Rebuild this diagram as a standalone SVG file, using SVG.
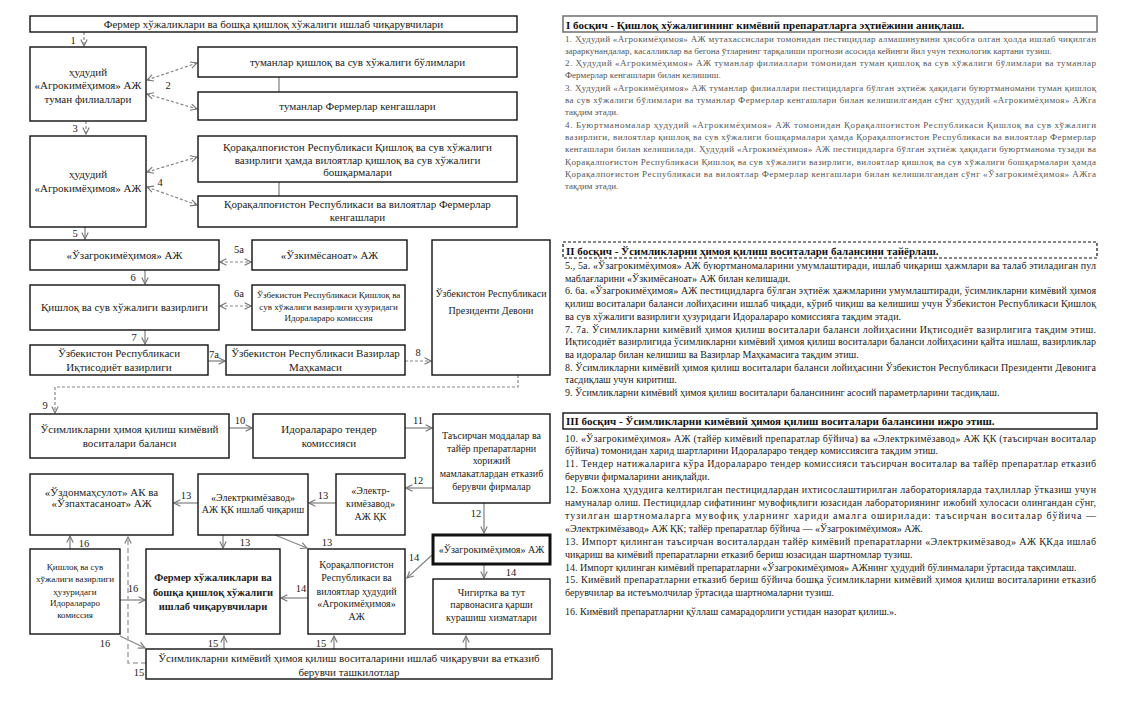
<svg xmlns="http://www.w3.org/2000/svg" width="1132" height="701" viewBox="0 0 1132 701">
<style>
text{font-family:"Liberation Serif","Times New Roman",serif;fill:#222;}
.b{fill:#fff;stroke:#111;stroke-width:1.4;}
.bt{fill:#fff;stroke:#111;stroke-width:3;}
.t{font-size:11px;text-anchor:middle;}
.t10{font-size:10px;text-anchor:middle;}
.t9{font-size:9px;text-anchor:middle;}
.tb{font-size:10.5px;font-weight:bold;text-anchor:middle;}
.n{font-size:10.5px;text-anchor:middle;}
.c{fill:none;stroke:#888;stroke-width:1.3;}
.d{fill:none;stroke:#888;stroke-width:1.2;stroke-dasharray:3 2;}
.dl{fill:none;stroke:#aaa;stroke-width:1.6;stroke-dasharray:5 3;}
.h{font-size:11px;font-weight:bold;fill:#111;}
.p1{font-size:9px;fill:#555;}
.p2{font-size:10px;fill:#222;}
</style>
<defs>
<marker id="a" viewBox="0 0 10 10" refX="9" refY="5" markerWidth="8" markerHeight="8" markerUnits="userSpaceOnUse" orient="auto-start-reverse">
<path d="M1,1 L9,5 L1,9" fill="none" stroke="#777" stroke-width="1.4"/>
</marker>
</defs>
<rect width="1132" height="701" fill="#fff"/>

<g id="connectors">
<path class="d" d="M84,32 V46" marker-end="url(#a)"/>
<path class="d" d="M147,80 L197,63" marker-start="url(#a)" marker-end="url(#a)"/>
<path class="d" d="M147,94 L197,109" marker-start="url(#a)" marker-end="url(#a)"/>
<path class="c" d="M279,77 V92"/>
<path class="d" d="M86,121 V134" marker-end="url(#a)"/>
<path class="d" d="M147,172 L197,157" marker-start="url(#a)" marker-end="url(#a)"/>
<path class="d" d="M147,187 L197,205" marker-start="url(#a)" marker-end="url(#a)"/>
<path class="c" d="M279,182 V196"/>
<path class="c" d="M85,227 V239" marker-end="url(#a)"/>
<path class="d" d="M220,262 H251" marker-start="url(#a)" marker-end="url(#a)"/>
<path class="c" d="M145,270 V284" marker-end="url(#a)"/>
<path class="d" d="M220,306 H251" marker-start="url(#a)" marker-end="url(#a)"/>
<path class="c" d="M145,330 V344" marker-end="url(#a)"/>
<path class="c" d="M208,361 H225" marker-end="url(#a)"/>
<path class="d" d="M405,361 H431" marker-end="url(#a)"/>
<path class="d" d="M518,375 V387 H55 V413" marker-end="url(#a)"/>
<path class="c" d="M229,428 H252" marker-end="url(#a)"/>
<path class="c" d="M405,428 H432" marker-end="url(#a)"/>
<path class="c" d="M433,488 H406" marker-end="url(#a)"/>
<path class="c" d="M484,503 V533" marker-end="url(#a)"/>
<path class="c" d="M336,503 H309" marker-end="url(#a)"/>
<path class="c" d="M198,503 H174" marker-end="url(#a)"/>
<path class="c" d="M223,535 V548" marker-end="url(#a)"/>
<path class="c" d="M275,535 L307,548" marker-end="url(#a)"/>
<path class="c" d="M70,549 V536" marker-end="url(#a)"/>
<path class="c" d="M120,600 H145" marker-end="url(#a)"/>
<path class="c" d="M120,636 L145,648" marker-end="url(#a)"/>
<path class="c" d="M308,598 H281" marker-end="url(#a)"/>
<path class="c" d="M432,555 L407,578" marker-end="url(#a)"/>
<path class="c" d="M484,564 V578" marker-end="url(#a)"/>
<path class="c" d="M224,649 V636" marker-end="url(#a)"/>
<path class="c" d="M334,649 V636" marker-end="url(#a)"/>
<path class="c" d="M466,649 V636" marker-end="url(#a)"/>
<path class="dl" d="M146,663 H128 V537" marker-end="url(#a)"/>
</g>

<g id="labels">
<text class="n" x="73" y="44">1</text>
<text class="n" x="168" y="89">2</text>
<text class="n" x="75" y="132">3</text>
<text class="n" x="160" y="186">4</text>
<text class="n" x="75" y="237">5</text>
<text class="n" x="239" y="253">5а</text>
<text class="n" x="133" y="281">6</text>
<text class="n" x="239" y="297">6а</text>
<text class="n" x="134" y="341">7</text>
<text class="n" x="214" y="358">7а</text>
<text class="n" x="418" y="356">8</text>
<text class="n" x="45" y="409">9</text>
<text class="n" x="240" y="424">10</text>
<text class="n" x="418" y="424">11</text>
<text class="n" x="418" y="484">12</text>
<text class="n" x="476" y="517">12</text>
<text class="n" x="323" y="499">13</text>
<text class="n" x="186" y="499">13</text>
<text class="n" x="245" y="546">13</text>
<text class="n" x="327" y="546">13</text>
<text class="n" x="84" y="547">16</text>
<text class="n" x="133" y="592">16</text>
<text class="n" x="105" y="647">16</text>
<text class="n" x="301" y="592">14</text>
<text class="n" x="414" y="561">14</text>
<text class="n" x="511" y="576">14</text>
<text class="n" x="213" y="647">15</text>
<text class="n" x="321" y="647">15</text>
<text class="n" x="139" y="676">15</text>
</g>

<g id="n-top"><rect class="b" x="30" y="16" width="487" height="16"/><text class="t" x="273.5" y="28">Фермер хўжаликлари ва бошқа қишлоқ хўжалиги ишлаб чиқарувчилари</text></g>
<g id="n-a"><rect class="b" x="30" y="47" width="116" height="74"/><text class="t" x="88" y="76">ҳудудий</text><text class="t" x="88" y="89">«Агрокимёҳимоя» АЖ</text><text class="t" x="88" y="103">туман филиаллари</text></g>
<g id="n-b1"><rect class="b" x="198" y="47" width="319" height="30"/><text class="t" x="357.5" y="66">туманлар қишлоқ ва сув хўжалиги бўлимлари</text></g>
<g id="n-b2"><rect class="b" x="198" y="92" width="319" height="28"/><text class="t" x="357.5" y="110">туманлар Фермерлар кенгашлари</text></g>
<g id="n-c"><rect class="b" x="30" y="136" width="116" height="91"/><text class="t" x="88" y="178">ҳудудий</text><text class="t" x="88" y="192">«Агрокимёҳимоя» АЖ</text></g>
<g id="n-d1"><rect class="b" x="198" y="136" width="319" height="46"/><text class="t" x="357.5" y="151">Қорақалпоғистон Республикаси Қишлоқ ва сув хўжалиги</text><text class="t" x="357.5" y="163.5">вазирлиги ҳамда вилоятлар қишлоқ ва сув хўжалиги</text><text class="t" x="357.5" y="176">бошқармалари</text></g>
<g id="n-d2"><rect class="b" x="198" y="196" width="319" height="31"/><text class="t" x="357.5" y="208">Қорақалпоғистон Республикаси ва вилоятлар Фермерлар</text><text class="t" x="357.5" y="221">кенгашлари</text></g>
<g id="n-e1"><rect class="b" x="30" y="240" width="189" height="30"/><text class="t" x="124.5" y="259">«Ўзагрокимёҳимоя» АЖ</text></g>
<g id="n-e2"><rect class="b" x="252" y="240" width="155" height="30"/><text class="t" x="329.5" y="259">«Ўзкимёсаноат»  АЖ</text></g>
<g id="n-f1"><rect class="b" x="30" y="285" width="189" height="45"/><text class="t" x="124.5" y="311">Қишлоқ ва сув хўжалиги вазирлиги</text></g>
<g id="n-f2"><rect class="b" x="252" y="285" width="153" height="45"/><text class="t9" x="328.5" y="298">Ўзбекистон Республикаси Қишлоқ ва</text><text class="t9" x="328.5" y="309.5">сув хўжалиги вазирлиги ҳузуридаги</text><text class="t9" x="328.5" y="321">Идоралараро комиссия</text></g>
<g id="n-g1"><rect class="b" x="30" y="345" width="178" height="30"/><text class="t" x="119" y="357">Ўзбекистон Республикаси</text><text class="t" x="119" y="371">Иқтисодиёт вазирлиги</text></g>
<g id="n-g2"><rect class="b" x="226" y="345" width="179" height="30"/><text class="t" x="315.5" y="357">Ўзбекистон Республикаси Вазирлар</text><text class="t" x="315.5" y="371">Маҳкамаси</text></g>
<g id="n-p"><rect class="b" x="432" y="240" width="118" height="135"/><text class="t10" x="491" y="297">Ўзбекистон Республикаси</text><text class="t10" x="491" y="314">Президенти Девони</text></g>
<g id="n-h1"><rect class="b" x="30" y="414" width="199" height="44"/><text class="t" x="129.5" y="433">Ўсимликларни ҳимоя қилиш кимёвий</text><text class="t" x="129.5" y="447">воситалари баланси</text></g>
<g id="n-h2"><rect class="b" x="253" y="414" width="152" height="44"/><text class="t" x="329" y="433">Идоралараро тендер</text><text class="t" x="329" y="447">комиссияси</text></g>
<g id="n-h3"><rect class="b" x="433" y="414" width="117" height="89"/><text class="t10" x="491.5" y="439">Таъсирчан моддалар ва</text><text class="t10" x="491.5" y="452">тайёр препаратларни</text><text class="t10" x="491.5" y="464">хорижий</text><text class="t10" x="491.5" y="477">мамлакатлардан етказиб</text><text class="t10" x="491.5" y="490">берувчи фирмалар</text></g>
<g id="n-i1"><rect class="b" x="30" y="474" width="143" height="61"/><text class="t" x="101.5" y="495.5">«Ўздонмаҳсулот» АК ва</text><text class="t" x="101.5" y="507">«Ўзпахтасаноат» АЖ</text></g>
<g id="n-i2"><rect class="b" x="198" y="474" width="110" height="61"/><text class="t10" x="253" y="501">«Электркимёзавод»</text><text class="t10" x="253" y="513">АЖ ҚК ишлаб чиқариш</text></g>
<g id="n-i3"><rect class="b" x="336" y="474" width="69" height="61"/><text class="t10" x="370.5" y="494">«Электр-</text><text class="t10" x="370.5" y="507">кимёзавод»</text><text class="t10" x="370.5" y="520">АЖ ҚК</text></g>
<g id="n-k1"><rect class="bt" x="433" y="535" width="117" height="29"/><text class="t10" x="491.5" y="553">«Ўзагрокимёҳимоя» АЖ</text></g>
<g id="n-k2"><rect class="b" x="433" y="579" width="117" height="55"/><text class="t10" x="491.5" y="596">Чигиртка ва тут</text><text class="t10" x="491.5" y="608">парвонасига қарши</text><text class="t10" x="491.5" y="621">курашиш хизматлари</text></g>
<g id="n-j1"><rect class="b" x="30" y="549" width="90" height="85"/><text class="t9" x="75" y="570">Қишлоқ ва сув</text><text class="t9" x="75" y="582">хўжалиги вазирлиги</text><text class="t9" x="75" y="595">ҳузуридаги</text><text class="t9" x="75" y="606">Идоралараро</text><text class="t9" x="75" y="618">комиссия</text></g>
<g id="n-j2"><rect class="b" x="146" y="549" width="134" height="85"/><text class="tb" x="213" y="581">Фермер хўжаликлари ва</text><text class="tb" x="213" y="596">бошқа қишлоқ хўжалиги</text><text class="tb" x="213" y="610">ишлаб чиқарувчилари</text></g>
<g id="n-j3"><rect class="b" x="308" y="549" width="97" height="85"/><text class="t10" x="356.5" y="568">Қорақалпоғистон</text><text class="t10" x="356.5" y="581">Республикаси ва</text><text class="t10" x="356.5" y="595">вилоятлар ҳудудий</text><text class="t10" x="356.5" y="607">«Агрокимёҳимоя»</text><text class="t10" x="356.5" y="620">АЖ</text></g>
<g id="n-l"><rect class="b" x="146" y="649" width="406" height="30"/><text class="t" x="349" y="661.5">Ўсимликларни кимёвий ҳимоя қилиш воситаларини ишлаб чиқарувчи ва етказиб</text><text class="t" x="349" y="675.5">берувчи ташкилотлар</text></g>

<g id="stage1">
<rect x="563" y="16" width="534" height="16" fill="#fff" stroke="#777" stroke-width="1.6"/>
<text class="h" x="566" y="28.5">I босқич - Қишлоқ хўжалигининг кимёвий препаратларга эҳтиёжини аниқлаш.</text>
<text class="p1" x="565" y="41.5" textLength="531" lengthAdjust="spacing">1. Ҳудудий «Агрокимёҳимоя» АЖ мутахассислари томонидан пестицидлар алмашинувини ҳисобга олган ҳолда ишлаб чиқилган</text>
<text class="p1" x="565" y="53.8">зараркунандалар, касалликлар ва бегона ўтларнинг тарқалиши прогнози асосида кейинги йил учун технологик картани тузиш.</text>
<text class="p1" x="565" y="66.1" textLength="531" lengthAdjust="spacing">2. Ҳудудий «Агрокимёҳимоя» АЖ туманлар филиаллари томонидан туман қишлоқ ва сув хўжалиги бўлимлари ва туманлар</text>
<text class="p1" x="565" y="78.4">Фермерлар кенгашлари билан келишиш.</text>
<text class="p1" x="565" y="90.7" textLength="531" lengthAdjust="spacing">3.  Ҳудудий «Агрокимёҳимоя» АЖ туманлар филиаллари  пестицидларга бўлган эҳтиёж ҳақидаги  буюртманомани туман қишлоқ</text>
<text class="p1" x="565" y="103" textLength="531" lengthAdjust="spacing">ва сув хўжалиги бўлимлари ва туманлар Фермерлар кенгашлари билан келишилгандан сўнг ҳудудий «Агрокимёҳимоя» АЖга</text>
<text class="p1" x="565" y="115.3">тақдим этади.</text>
<text class="p1" x="565" y="127.6" textLength="531" lengthAdjust="spacing">4. Буюртманомалар ҳудудий «Агрокимёҳимоя» АЖ томонидан  Қорақалпоғистон Республикаси Қишлоқ ва сув хўжалиги</text>
<text class="p1" x="565" y="139.9" textLength="531" lengthAdjust="spacing">вазирлиги, вилоятлар қишлоқ ва сув хўжалиги бошқармалари ҳамда Қорақалпоғистон Республикаси ва вилоятлар Фермерлар</text>
<text class="p1" x="565" y="152.2" textLength="531" lengthAdjust="spacing">кенгашлари билан келишилади. Ҳудудий «Агрокимёҳимоя» АЖ   пестицидларга бўлган эҳтиёж ҳақидаги буюртманома тузади ва</text>
<text class="p1" x="565" y="164.5" textLength="531" lengthAdjust="spacing">Қорақалпоғистон Республикаси Қишлоқ ва сув хўжалиги вазирлиги, вилоятлар қишлоқ ва сув хўжалиги бошқармалари ҳамда</text>
<text class="p1" x="565" y="176.8" textLength="531" lengthAdjust="spacing">Қорақалпоғистон Республикаси ва вилоятлар Фермерлар кенгашлари билан келишилгандан сўнг «Ўзагрокимёҳимоя» АЖга</text>
<text class="p1" x="565" y="189.1">тақдим этади.</text>
</g>

<g id="stage2">
<rect x="563" y="242" width="534" height="16" fill="#fff" stroke="#111" stroke-width="1.2" stroke-dasharray="3 2"/>
<text class="h" x="566" y="254.5">II босқич - Ўсимликларни ҳимоя қилиш воситалари балансини тайёрлаш.</text>
<text class="p2" x="565" y="269" textLength="531" lengthAdjust="spacing">5., 5а. «Ўзагрокимёҳимоя» АЖ буюртманомаларини умумлаштиради, ишлаб чиқариш ҳажмлари ва талаб этиладиган пул</text>
<text class="p2" x="565" y="281.7">маблағларини «Ўзкимёсаноат» АЖ билан келишади.</text>
<text class="p2" x="565" y="294.4" textLength="531" lengthAdjust="spacing">6. 6а. «Ўзагрокимёҳимоя» АЖ пестицидларга бўлган эҳтиёж ҳажмларини умумлаштиради, ўсимликларни кимёвий ҳимоя</text>
<text class="p2" x="565" y="307.1" textLength="531" lengthAdjust="spacing">қилиш воситалари баланси лойиҳасини ишлаб чиқади, кўриб чиқиш ва келишиш учун Ўзбекистон Республикаси Қишлоқ</text>
<text class="p2" x="565" y="319.8">ва сув хўжалиги вазирлиги ҳузуридаги Идоралараро комиссияга тақдим этади.</text>
<text class="p2" x="565" y="332.5" textLength="531" lengthAdjust="spacing">7. 7а. Ўсимликларни кимёвий ҳимоя қилиш воситалари баланси лойиҳасини Иқтисодиёт вазирлигига тақдим этиш.</text>
<text class="p2" x="565" y="345.2" textLength="531" lengthAdjust="spacing">Иқтисодиёт вазирлигида ўсимликларни кимёвий ҳимоя қилиш воситалари баланси лойиҳасини қайта ишлаш, вазирликлар</text>
<text class="p2" x="565" y="357.9">ва идоралар билан келишиш ва Вазирлар Маҳкамасига тақдим этиш.</text>
<text class="p2" x="565" y="370.6" textLength="531" lengthAdjust="spacing">8. Ўсимликларни кимёвий ҳимоя қилиш воситалари баланси лойиҳасини Ўзбекистон Республикаси Президенти Девонига</text>
<text class="p2" x="565" y="383.3">тасдиқлаш учун  киритиш.</text>
<text class="p2" x="565" y="396">9. Ўсимликларни кимёвий ҳимоя қилиш воситалари балансининг асосий параметрларини тасдиқлаш.</text>
</g>

<g id="stage3">
<rect x="563" y="413" width="534" height="16" fill="#fff" stroke="#111" stroke-width="1.4"/>
<text class="h" x="566" y="425">III босқич - Ўсимликларни кимёвий ҳимоя қилиш воситалари балансини ижро этиш.</text>
<text class="p2" x="565" y="441.5" textLength="531" lengthAdjust="spacing">10. «Ўзагрокимёҳимоя» АЖ (тайёр кимёвий препаратлар бўйича) ва «Электркимёзавод» АЖ ҚК (таъсирчан воситалар</text>
<text class="p2" x="565" y="454.4">бўйича)  томонидан харид шартларини Идоралараро тендер комиссиясига тақдим этиш.</text>
<text class="p2" x="565" y="467.3" textLength="531" lengthAdjust="spacing">11. Тендер натижаларига кўра Идоралараро тендер комиссияси таъсирчан воситалар ва тайёр препаратлар етказиб</text>
<text class="p2" x="565" y="480.2">берувчи фирмаларини аниқлайди.</text>
<text class="p2" x="565" y="493.1" textLength="531" lengthAdjust="spacing">12. Божхона ҳудудига келтирилган пестицидлардан ихтисослаштирилган лабораторияларда таҳлиллар ўтказиш учун</text>
<text class="p2" x="565" y="506" textLength="531" lengthAdjust="spacing">намуналар олиш. Пестицидлар сифатининг мувофиқлиги юзасидан лабораториянинг ижобий хулосаси олингандан сўнг,</text>
<text class="p2" x="565" y="518.9" textLength="531" lengthAdjust="spacing">тузилган шартномаларга мувофиқ уларнинг хариди амалга оширилади: таъсирчан воситалар бўйича —</text>
<text class="p2" x="565" y="531.8">«Электркимёзавод» АЖ ҚК; тайёр препаратлар бўйича — «Ўзагрокимёҳимоя» АЖ.</text>
<text class="p2" x="565" y="544.7" textLength="531" lengthAdjust="spacing">13. Импорт қилинган таъсирчан воситалардан тайёр кимёвий препаратларни «Электркимёзавод» АЖ ҚКда ишлаб</text>
<text class="p2" x="565" y="557.6">чиқариш ва кимёвий препаратларни етказиб бериш юзасидан шартномлар тузиш.</text>
<text class="p2" x="565" y="570.5">14. Импорт қилинган кимёвий препаратларни «Ўзагрокимёҳимоя» АЖнинг ҳудудий бўлинмалари ўртасида тақсимлаш.</text>
<text class="p2" x="565" y="583.4" textLength="531" lengthAdjust="spacing">15. Кимёвий препаратларни етказиб бериш бўйича бошқа ўсимликларни кимёвий ҳимоя қилиш воситаларини етказиб</text>
<text class="p2" x="565" y="596.3">берувчилар ва истеъмолчилар ўртасида шартномаларни тузиш.</text>
<text class="p2" x="565" y="614.5">16. Кимёвий препаратларни  қўллаш самарадорлиги устидан назорат қилиш.».</text>
</g>
</svg>
